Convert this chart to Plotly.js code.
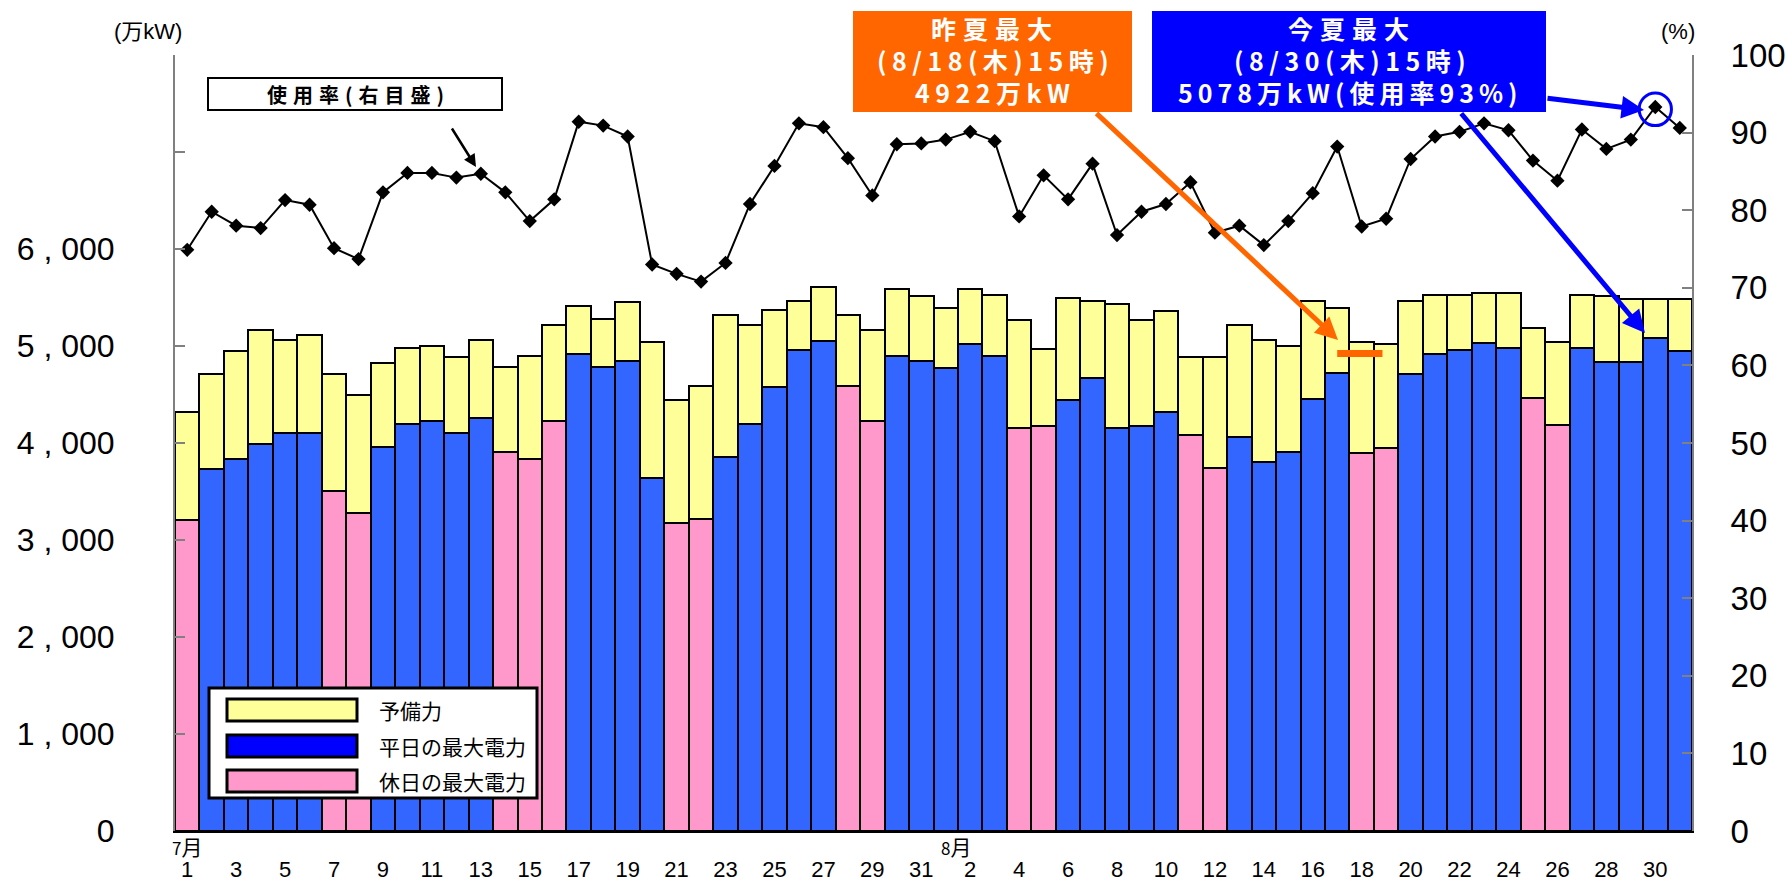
<!DOCTYPE html>
<html>
<head>
<meta charset="utf-8">
<script src="https://cdn.plot.ly/plotly-3.0.1.min.js"></script>
<style>
html,body{margin:0;padding:0;background:#fff;}
#chart{width:1789px;height:881px;}
</style>
</head>
<body>
<div id="chart"></div>
<script>
// ---- data ----
const dayLabels = ["1","2","3","4","5","6","7","8","9","10","11","12","13","14","15","16","17","18","19","20","21","22","23","24","25","26","27","28","29","30","31",
  "1","2","3","4","5","6","7","8","9","10","11","12","13","14","15","16","17","18","19","20","21","22","23","24","25","26","27","28","29","30","31"];
const holiday = [1,0,0,0,0,0,1,1,0,0, 0,0,0,1,1,1,0,0,0,0, 1,1,0,0,0,0,0,1,1,0, 0,0,0,0,1,1,0,0,0,0, 0,1,1,0,0,0,0,0,1,1, 0,0,0,0,0,1,1,0,0,0,0,0];
const supply = [4320,4710,4950,5160,5060,5110,4710,4490,4820,4980, 5000,4890,5060,4780,4900,5220,5410,5280,5450,5040,
  4440,4590,5320,5220,5370,5460,5610,5320,5170,5590, 5520,5390,5590,5530,5270,4970,5490,5460,5430,5270,
  5360,4890,4890,5220,5060,5000,5460,5390,5040,5020, 5460,5530,5530,5550,5550,5190,5040,5530,5520,5480,5480,5480];
const demand = [3210,3730,3840,3990,4100,4100,3510,3280,3960,4200, 4230,4100,4260,3910,3840,4230,4920,4780,4850,3640,
  3180,3220,3860,4200,4580,4960,5050,4590,4230,4900, 4850,4770,5020,4900,4150,4180,4440,4670,4150,4180,
  4320,4080,3740,4060,3800,3910,4450,4720,3900,3950, 4710,4920,4960,5030,4980,4460,4190,4980,4830,4830,5078,4950];
const rate = [74.9,79.8,78.0,77.7,81.3,80.7,75.1,73.7,82.3,84.8, 84.8,84.2,84.7,82.3,78.6,81.4,91.4,90.9,89.5,73.0,
  71.8,70.8,73.2,80.8,85.7,91.2,90.7,86.7,81.9,88.5, 88.6,89.1,90.1,88.9,79.2,84.5,81.4,86.0,76.8,79.8,
  80.8,83.6,77.1,78.0,75.5,78.6,82.2,88.2,77.9,78.9, 86.6,89.5,90.1,91.2,90.3,86.4,83.8,90.4,87.9,89.1,93.3,90.6];
const leftTicks = [0,1000,2000,3000,4000,5000,6000,7000,8000];
const leftTickText = ["0","1 , 000","2 , 000","3 , 000","4 , 000","5 , 000","6 , 000","",""];
const legendNames = ["予備力","平日の最大電力","休日の最大電力"];
const lastSummerMax = 4922;   // 万kW, 8/18
const thisSummerMaxIdx = 60;  // 8/30
const thisSummerMaxRate = 93;

// ---- derived ----
const idx = dayLabels.map((_, i) => i);
const reserve = supply.map((s, i) => s - demand[i]);
const BLUE = "#3366FF", PINK = "#FF99CC", YELLOW = "#FFFF99";
const demandColors = holiday.map(h => h ? PINK : BLUE);
const tickvals = idx.filter(i => i % 2 === 0);
const ticktext = tickvals.map(i => dayLabels[i]);

// plot box in pixels
const L = 175, R = 1692, T = 55, B = 831;
const W = 1789, H = 881;
const px = x => (x - L) / (R - L);
const py = y => (B - y) / (B - T);

const JP = "Noto Sans CJK JP, sans-serif";
const traces = [
  {type: "bar", x: idx, y: demand, name: "最大電力", marker: {color: demandColors, line: {color: "#000", width: 2}},
   showlegend: false, hoverinfo: "y"},
  {type: "bar", x: idx, y: reserve, name: legendNames[0], marker: {color: YELLOW, line: {color: "#000", width: 2}},
   showlegend: false, hoverinfo: "y"},
  {type: "scatter", mode: "lines+markers", x: idx, y: rate, yaxis: "y2", name: "使用率",
   line: {color: "#000", width: 2}, marker: {symbol: "diamond", size: 11, color: "#000"}, showlegend: false}
];

const shapes = [];
const annotations = [];
function rectPx(x0, y0, x1, y1, fill, lineColor, lw) {
  shapes.push({type: "rect", xref: "paper", yref: "paper", x0: px(x0), x1: px(x1), y0: py(y1), y1: py(y0),
    fillcolor: fill, line: {color: lineColor, width: lw}, layer: "above"});
}
function textPx(x, y, text, size, color, opts) {
  annotations.push(Object.assign({xref: "paper", yref: "paper", x: px(x), y: py(y), text: text, showarrow: false,
    xanchor: "center", yanchor: "middle", font: {family: JP, size: size, color: color}}, opts || {}));
}
function arrowPx(x0, y0, x1, y1, color, width, size) {
  annotations.push({xref: "paper", yref: "paper", x: px(x1), y: py(y1), ax: x0 - x1, ay: y0 - y1,
    axref: "pixel", ayref: "pixel", text: "", showarrow: true, arrowhead: 2, arrowsize: size,
    arrowwidth: width, arrowcolor: color, standoff: 0, startstandoff: 0});
}

// axis units
textPx(148, 31, "(万kW)", 22, "#000", {font: {family: "Liberation Sans, " + JP, size: 22, color: "#000"}});
textPx(1678, 31, "(%)", 22, "#000", {font: {family: "Liberation Sans, " + JP, size: 22, color: "#000"}});

// month labels
annotations.push({xref: "x", yref: "paper", x: 0, y: py(846), text: "<span style='font-size:17px'>7</span>月", showarrow: false,
  xanchor: "center", yanchor: "middle", font: {family: "Liberation Sans Narrow, " + JP, size: 21, color: "#000"}});
annotations.push({xref: "x", yref: "paper", x: 31.4, y: py(846), text: "<span style='font-size:17px'>8</span>月", showarrow: false,
  xanchor: "center", yanchor: "middle", font: {family: "Liberation Sans Narrow, " + JP, size: 21, color: "#000"}});

// usage-rate label box
rectPx(208, 78, 502, 110, "#fff", "#000", 2);
textPx(358, 94, "<b><span style='letter-spacing:6px'>使用率(右目盛)</span></b>", 20, "#000");
arrowPx(451, 127, 476, 167, "#000", 2.5, 1.0);

// last summer max
rectPx(853, 11, 1132, 112, "#FF6600", "#FF6600", 0);
textPx(995, 28, "<b><span style='letter-spacing:7px'>昨夏最大</span></b>", 25, "#fff");
textPx(995, 60, "<b><span style='letter-spacing:5.5px'>(8/18(木)15時)</span></b>", 25, "#fff");
textPx(995, 92, "<b><span style='letter-spacing:5.5px'>4922万kW</span></b>", 25, "#fff");
arrowPx(1095, 112, 1338, 340, "#FF6600", 5, 0.9);
shapes.push({type: "line", xref: "x", yref: "y", x0: 47.0, x1: 48.85, y0: lastSummerMax, y1: lastSummerMax,
  line: {color: "#FF6600", width: 7}, layer: "above"});

// this summer max
rectPx(1152, 11, 1546, 112, "#0000FF", "#0000FF", 0);
textPx(1352, 28, "<b><span style='letter-spacing:7px'>今夏最大</span></b>", 25, "#fff");
textPx(1352, 60, "<b><span style='letter-spacing:5.5px'>(8/30(木)15時)</span></b>", 25, "#fff");
textPx(1350, 92, "<b><span style='letter-spacing:5px'>5078万kW(使用率93%)</span></b>", 25, "#fff");
arrowPx(1546, 98, 1644, 110, "#0000FF", 5, 0.9);
arrowPx(1460, 112, 1645, 333, "#0000FF", 5, 0.9);
shapes.push({type: "circle", xref: "x", yref: "y2", x0: thisSummerMaxIdx - 0.66, x1: thisSummerMaxIdx + 0.66,
  y0: thisSummerMaxRate - 2.1, y1: thisSummerMaxRate + 2.1, line: {color: "#0000FF", width: 3}, layer: "above"});

// legend
rectPx(209, 688, 537, 798, "#fff", "#000", 3);
const legColors = [YELLOW, "#0000FF", PINK];
const rowY = [710, 746, 781];
legendNames.forEach((n, k) => {
  rectPx(227, rowY[k] - 11, 357, rowY[k] + 11, legColors[k], "#000", 3);
  textPx(377, rowY[k], n, 21, "#000", {xanchor: "left"});
});

const layout = {
  width: W, height: H,
  margin: {l: L, r: W - R, t: T, b: H - B, pad: 0},
  paper_bgcolor: "#fff", plot_bgcolor: "#fff",
  barmode: "stack", bargap: 0,
  showlegend: false,
  xaxis: {range: [-0.5, 61.5], tickmode: "array", tickvals: tickvals, ticktext: ticktext,
    showgrid: false, zeroline: false, showline: true, linecolor: "#000", linewidth: 2, ticks: "",
    ticklabelstandoff: 18, tickangle: 0,
    tickfont: {family: "Liberation Sans Narrow, Liberation Sans, sans-serif", size: 22, color: "#000"}},
  yaxis: {range: [0, 8000], tickmode: "array", tickvals: leftTicks, ticktext: leftTickText,
    showgrid: false, zeroline: false, showline: true, linecolor: "#808080", linewidth: 2,
    ticks: "inside", ticklen: 10, tickcolor: "#808080", tickwidth: 2, ticklabelstandoff: 52,
    tickfont: {family: "Liberation Sans, sans-serif", size: 32, color: "#000"}},
  yaxis2: {range: [0, 100], overlaying: "y", side: "right", tickmode: "linear", tick0: 0, dtick: 10,
    showgrid: false, zeroline: false, showline: true, linecolor: "#808080", linewidth: 2,
    ticks: "inside", ticklen: 10, tickcolor: "#808080", tickwidth: 2, ticklabelstandoff: 30,
    tickfont: {family: "Liberation Sans, sans-serif", size: 33, color: "#000"}},
  shapes: shapes,
  annotations: annotations
};

Plotly.newPlot("chart", traces, layout, {displayModeBar: false, staticPlot: true});
</script>
</body>
</html>
